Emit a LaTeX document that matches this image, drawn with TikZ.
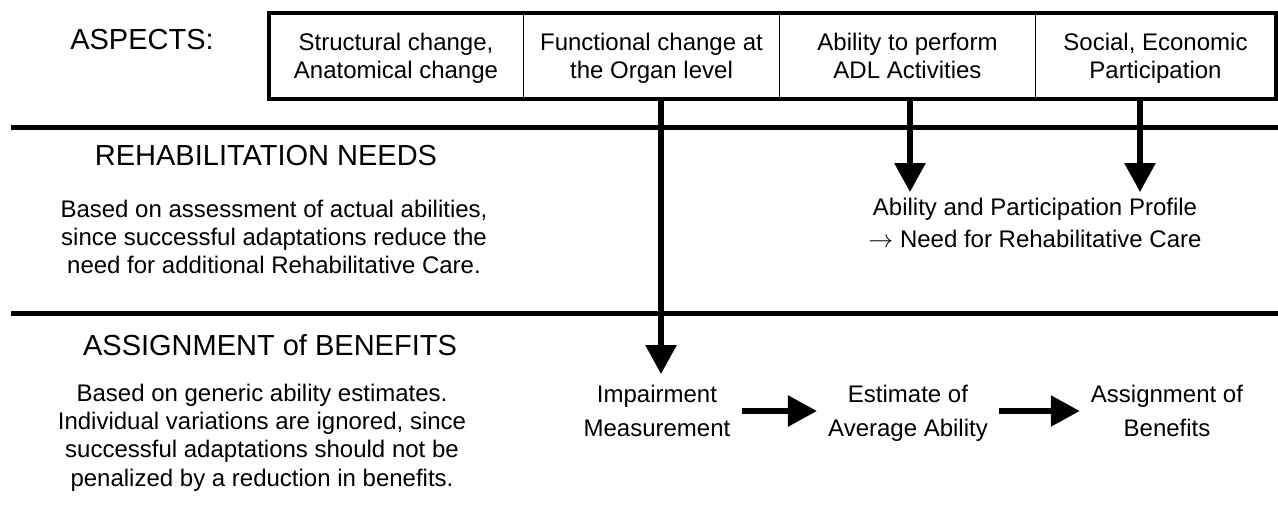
\documentclass[tikz,border=0pt]{standalone}
\usepackage{fontspec}
\setmainfont{Liberation Sans}
\usetikzlibrary{arrows.meta,positioning}

\tikzset{
    heading/.style={font=\fontsize{29}{34}\selectfont, text depth=0pt, inner sep=0pt},
    para/.style={font=\fontsize{24}{28.3}\selectfont, align=center, text depth=0pt, inner sep=0pt},
    cell/.style={font=\fontsize{24}{28}\selectfont, align=center, text depth=0pt,
        draw, line width=1.5pt, inner sep=0pt, outer sep=0pt,
        minimum width=256pt, minimum height=86pt},
    flow/.style={font=\fontsize{24}{34}\selectfont, align=center, text depth=0pt, inner sep=11pt},
    rule/.style={line width=4.5pt},
    fat/.style={line width=5.5pt, -{Triangle[length=29pt,width=30pt]}}
}

\begin{document}
\begin{tikzpicture}[x=1pt,y=-1pt]
\useasboundingbox (0,0) rectangle (1278,514);

% aspects table
\node[heading] (aspects) at (142,39) {ASPECTS:};
\node[cell, minimum width=255pt] (struct) at (396,56) {Structural change,\\Anatomical change};
\node[cell, right=0pt of struct] (organ) {Functional change at\\the Organ level};
\node[cell, right=0pt of organ] (adl) {Ability to perform\\ADL Activities};
\node[cell, minimum width=240pt, right=0pt of adl] (social) {Social, Economic\\Participation};
\draw[line width=4pt] (struct.north west) rectangle (social.south east);

% section rules
\coordinate (r1w) at (11,127.5);
\coordinate (r1e) at (1278,127.5);
\coordinate (r2w) at (11,313.5);
\coordinate (r2e) at (1278,313.5);
\draw[rule] (r1w) -- (r1e);
\draw[rule] (r2w) -- (r2e);

% rehabilitation needs
\node[heading] (needs) at (266,155) {REHABILITATION NEEDS};
\node[para] (needstxt) at (274,237) {Based on assessment of actual abilities,\\since successful adaptations reduce the\\need for additional Rehabilitative Care.};
\node[para, font=\fontsize{24}{32}\selectfont, inner sep=6pt] (profile) at (1035,223) {Ability and Participation Profile\\\(\rightarrow\) Need for Rehabilitative Care};

% assignment of benefits
\node[heading] (assign) at (270,345) {ASSIGNMENT of BENEFITS};
\node[para] (assigntxt) at (262,435) {Based on generic ability estimates.\\Individual variations are ignored, since\\successful adaptations should not be\\penalized by a reduction in benefits.};
\node[flow] (impair) at (657,411) {Impairment\\Measurement};
\node[flow] (estimate) at (908,411) {Estimate of\\Average Ability};
\node[flow] (benefit) at (1167,411) {Assignment of\\Benefits};

% arrows
\coordinate (d1) at (661,99);
\coordinate (d2) at (910,99);
\coordinate (d3) at (1140,99);
\draw[fat] (d1) -- (d1 |- impair.north);
\draw[fat] (d2) -- (d2 |- profile.north);
\draw[fat] (d3) -- (d3 |- profile.north);
\draw[fat] (impair.east) -- (impair.east -| estimate.west);
\draw[fat] (estimate.east) -- (estimate.east -| benefit.west);
\end{tikzpicture}
\end{document}
